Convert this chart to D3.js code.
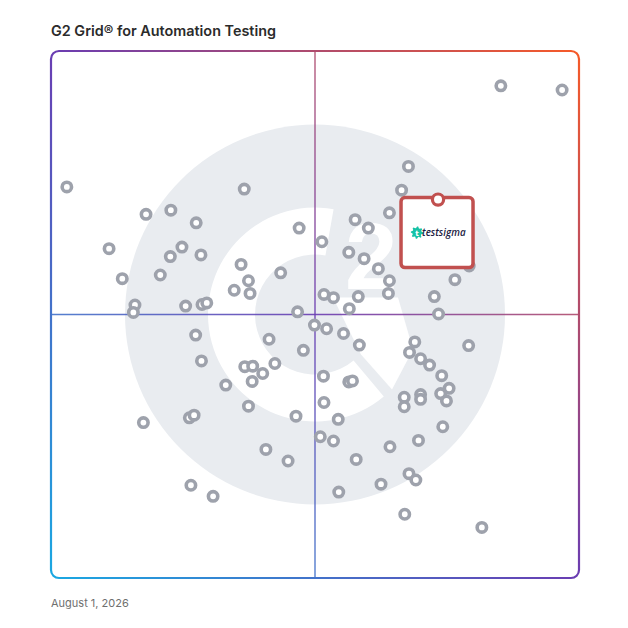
<!DOCTYPE html>
<html>
<head>
<meta charset="utf-8">
<script src="https://cdn.jsdelivr.net/npm/d3@7"></script>
<style>
  html, body { margin: 0; padding: 0; background: #ffffff; }
  svg { display: block; }
</style>
</head>
<body>
<div id="chart"></div>
<script>
// ---------------- DATA ----------------
const chartTitle = "G2 Grid\u00AE for Automation Testing";
const dateLabel = "August 1, 2026";

// Satisfaction (x, 0-100) and Market Presence (y, 0-100) of each product
const satisfaction = [
  3.0, 18.0, 22.7, 27.5, 11.0, 24.8, 22.6, 28.4, 20.7, 13.5,
  36.6, 36.0, 37.4, 34.7, 37.7, 43.5, 47.0, 15.9, 15.6, 25.5,
  28.6, 29.5, 46.7,
  67.7, 66.4, 64.1, 57.6, 60.1, 51.3, 56.4, 59.3, 62.0, 64.1,
  63.9, 76.5, 51.7, 53.5, 58.2, 56.5, 72.6, 73.4, 79.2, 85.2, 96.8,
  49.9, 27.4, 41.3, 47.8, 28.5, 36.7, 38.2, 42.4, 40.1, 38.1,
  33.1, 37.4, 46.4, 26.2, 27.1, 17.5, 40.7, 44.9, 26.5, 30.7,
  52.2, 55.4, 58.4, 68.9, 67.9, 70.0, 71.7, 79.1, 74.0, 75.4,
  73.8, 74.9, 51.6, 56.4, 57.1, 66.9, 66.9, 70.0, 70.0, 51.7,
  54.4, 51.0, 53.5, 64.2, 69.6, 74.2, 57.8, 67.8, 69.1, 62.5,
  54.5, 67.0, 81.6
];
const marketPresence = [
  74.2, 69.0, 69.8, 67.4, 62.5, 62.8, 61.0, 61.3, 57.5, 56.8,
  73.8, 59.5, 56.4, 54.6, 54.0, 57.9, 66.4, 51.8, 50.4, 51.6,
  51.9, 52.2, 50.5,
  78.1, 73.6, 69.3, 68.0, 66.4, 63.8, 61.8, 60.6, 58.7, 56.4,
  54.0, 56.6, 53.8, 53.2, 53.4, 51.1, 53.4, 50.1, 59.2, 93.4, 92.6,
  48.0, 46.1, 45.3, 43.2, 41.2, 40.1, 40.2, 40.7, 38.8, 37.3,
  36.6, 32.6, 30.7, 30.4, 30.9, 29.5, 24.4, 22.2, 17.6, 15.5,
  47.3, 46.4, 44.2, 44.8, 42.8, 41.6, 40.4, 44.1, 38.4, 36.0,
  35.0, 33.6, 38.3, 37.2, 37.4, 34.3, 32.5, 34.8, 33.9, 33.3,
  30.1, 26.8, 26.0, 24.9, 26.1, 28.7, 22.5, 19.8, 18.6, 17.8,
  16.3, 12.1, 9.6
];
// Highlighted product
const highlightName = "testsigma";
const highlightSatisfaction = 73.3;
const highlightPresence = 71.8;

// ---------------- LAYOUT ----------------
const W = 628, H = 628;
const plot = { left: 51, top: 51, right: 579, bottom: 578 };

const svg = d3.select("#chart").append("svg")
  .attr("width", W).attr("height", H)
  .attr("viewBox", `0 0 ${W} ${H}`);

const x = d3.scaleLinear().domain([0, 100]).range([plot.left, plot.right]);
const y = d3.scaleLinear().domain([0, 100]).range([plot.bottom, plot.top]);

const defs = svg.append("defs");
const grad = defs.append("linearGradient")
  .attr("id", "frameGrad")
  .attr("gradientUnits", "userSpaceOnUse")
  .attr("x1", plot.left).attr("y1", plot.bottom)
  .attr("x2", plot.right).attr("y2", plot.top);
grad.append("stop").attr("offset", "0%").attr("stop-color", "#1aa8e2");
grad.append("stop").attr("offset", "50%").attr("stop-color", "#6a3db2");
grad.append("stop").attr("offset", "100%").attr("stop-color", "#f65a28");

defs.append("clipPath").attr("id", "plotClip")
  .append("rect")
  .attr("x", plot.left).attr("y", plot.top)
  .attr("width", plot.right - plot.left).attr("height", plot.bottom - plot.top)
  .attr("rx", 8);

// ---------------- BACKGROUND G2 LOGO ----------------
const cx = x(50), cy = y(50);
const R = 190;             // logo circle radius
const s = R / 190;         // unit scale for logo geometry
const logo = svg.append("g").attr("clip-path", "url(#plotClip)");
logo.append("circle").attr("cx", cx).attr("cy", cy).attr("r", R).attr("fill", "#e9ecf0");

const deg = Math.PI / 180;
const gArc = d3.arc().innerRadius(60 * s).outerRadius(107 * s)
  .startAngle(140 * deg).endAngle(370 * deg);
logo.append("path").attr("d", gArc()).attr("transform", `translate(${cx},${cy})`).attr("fill", "#ffffff");

// crossbar of the G (relative to centre)
const bar = [[18, -17], [83, -17], [98, 35], [77, 75], [46, 40]]
  .map(p => [cx + p[0] * s, cy + p[1] * s]);
logo.append("path").attr("d", d3.line()(bar) + "Z").attr("fill", "#ffffff");

// the "2"
logo.append("text")
  .attr("x", cx + 30 * s).attr("y", cy - 26 * s)
  .attr("font-family", "Liberation Sans, Arial, sans-serif")
  .attr("font-weight", 700)
  .attr("font-size", 94 * s)
  .attr("fill", "#ffffff")
  .text("2");

// ---------------- QUADRANT LINES ----------------
const lines = svg.append("g");
lines.append("line")
  .attr("x1", x(50)).attr("x2", x(50)).attr("y1", plot.top).attr("y2", plot.bottom)
  .attr("stroke", "url(#frameGrad)").attr("stroke-width", 1.6).attr("opacity", 0.8);
lines.append("line")
  .attr("x1", plot.left).attr("x2", plot.right).attr("y1", y(50)).attr("y2", y(50))
  .attr("stroke", "url(#frameGrad)").attr("stroke-width", 1.6).attr("opacity", 0.9);

// ---------------- POINTS ----------------
const pts = satisfaction.map((v, i) => ({ sx: v, mp: marketPresence[i] }));
svg.append("g").selectAll("circle").data(pts).join("circle")
  .attr("cx", d => x(d.sx)).attr("cy", d => y(d.mp))
  .attr("r", 4.7)
  .attr("fill", "#ffffff")
  .attr("stroke", "#9ea2ac")
  .attr("stroke-width", 3.6);

// ---------------- HIGHLIGHT BOX ----------------
const hx = x(highlightSatisfaction), hy = y(highlightPresence);
const hb = svg.append("g");
hb.append("rect")
  .attr("x", hx - 37).attr("y", hy - 2)
  .attr("width", 72).attr("height", 70)
  .attr("rx", 4)
  .attr("fill", "#ffffff")
  .attr("stroke", "#c1504f")
  .attr("stroke-width", 3.5);
// gear icon
const gearC = [hx - 21, hy + 33];
const teeth = 8, rOut = 6.2, rIn = 4.6;
const gearPts = [];
for (let i = 0; i < teeth * 4; i++) {
  const a = (i / (teeth * 4)) * 2 * Math.PI;
  const r = (Math.floor(i / 2) % 2 === 0) ? rOut : rIn;
  gearPts.push([gearC[0] + r * Math.cos(a), gearC[1] + r * Math.sin(a)]);
}
hb.append("path").attr("d", d3.line()(gearPts) + "Z").attr("fill", "#17c2a6");
hb.append("text")
  .attr("x", gearC[0]).attr("y", gearC[1] + 3)
  .attr("text-anchor", "middle")
  .attr("font-family", "DejaVu Sans, sans-serif")
  .attr("font-weight", 700).attr("font-size", 7.5)
  .attr("fill", "#ffffff").text("t");
hb.append("text")
  .attr("x", hx - 16).attr("y", hy + 36.5)
  .attr("font-family", "Open Sans, sans-serif")
  .attr("font-style", "italic").attr("font-weight", 600)
  .attr("font-size", 9.8)
  .attr("fill", "#1b2142")
  .text(highlightName);
hb.append("circle")
  .attr("cx", hx).attr("cy", hy)
  .attr("r", 5.6)
  .attr("fill", "#ffffff")
  .attr("stroke", "#c1504f")
  .attr("stroke-width", 3.2);

// ---------------- FRAME ----------------
svg.append("rect")
  .attr("x", plot.left).attr("y", plot.top)
  .attr("width", plot.right - plot.left).attr("height", plot.bottom - plot.top)
  .attr("rx", 8)
  .attr("fill", "none")
  .attr("stroke", "url(#frameGrad)")
  .attr("stroke-width", 2.2);

// ---------------- TEXT ----------------
svg.append("text")
  .attr("x", 51).attr("y", 35.5)
  .attr("font-family", "Inter, sans-serif")
  .attr("font-weight", 600)
  .attr("font-size", 14.4)
  .attr("fill", "#2b2b2b")
  .text(chartTitle);

svg.append("text")
  .attr("x", 51).attr("y", 607)
  .attr("font-family", "Inter, sans-serif")
  .attr("font-size", 11)
  .attr("fill", "#6f6f6f")
  .text(dateLabel);
</script>
</body>
</html>
